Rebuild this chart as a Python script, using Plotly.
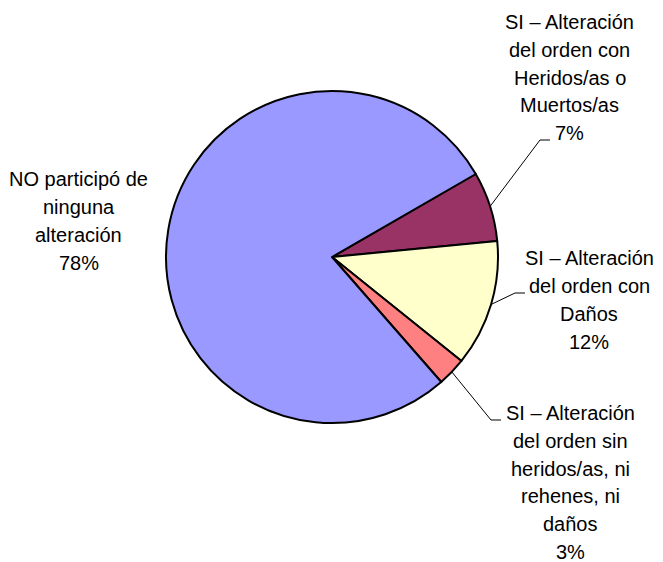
import math
import plotly.graph_objects as go

# ---- data ----
categories = [
    "SI – Alteración<br>del orden con<br>Heridos/as o<br>Muertos/as",
    "SI – Alteración<br>del orden con<br>Daños",
    "SI – Alteración<br>del orden sin<br>heridos/as, ni<br>rehenes, ni<br>daños",
    "NO participó de<br>ninguna<br>alteración",
]
values = [6.8, 12.3, 2.8, 78.1]
colors = ["#993366", "#FFFFCC", "#FF8080", "#9999FF"]

W, H = 663, 562          # browser window
OFF = 8                  # default page body margin
FW, FH = W - OFF, H - OFF
cx, cy, R = 332, 257, 166
rotation = 60
LINE = 27.7


def px2paper(x, y):
    return (x - OFF) / FW, 1 - (y - OFF) / FH


x0, y0 = px2paper(cx - R, cy + R)
x1, y1 = px2paper(cx + R, cy - R)

fig = go.Figure(go.Pie(
    labels=[c.replace("<br>", " ") for c in categories],
    values=values,
    sort=False,
    direction="clockwise",
    rotation=rotation,
    marker=dict(colors=colors, line=dict(color="black", width=2)),
    textinfo="none",
    hoverinfo="label+percent",
    domain=dict(x=[x0, x1], y=[y0, y1]),
    showlegend=False,
))

total = sum(values)
# label block centres (pixels) and leader-line elbows (layout only)
label_pos = [(569.5, 77.5), (589, 300), (570.5, 482.5), (78.5, 221)]
elbows = [[(540, 140), (550, 140)], [(515, 293), (525, 293)], [(491, 420), (501, 420)], None]

annotations = []
shapes = []
cum = 0
for i, (lab, v) in enumerate(zip(categories, values)):
    pct = round(100 * v / total)
    mid = rotation + 360 * (cum + v / 2) / total
    cum += v
    lines = lab.split("<br>") + [f"{pct}%"]
    n = len(lines)
    lx, ly = label_pos[i]
    for k, t in enumerate(lines):
        yy = ly + (k - (n - 1) / 2) * LINE
        px, py = px2paper(lx, yy)
        annotations.append(dict(
            x=px, y=py, xref="paper", yref="paper", text=t,
            showarrow=False, xanchor="center", yanchor="middle", align="center",
            font=dict(family="Liberation Sans, Arial, sans-serif", size=20, color="black"),
        ))
    if elbows[i]:
        a = math.radians(mid)
        sx = cx + R * math.sin(a)
        sy = cy - R * math.cos(a)
        pts = [(sx, sy)] + elbows[i]
        path = "M " + " L ".join(f"{px2paper(x, y)[0]},{px2paper(x, y)[1]}" for x, y in pts)
        shapes.append(dict(type="path", path=path, xref="paper", yref="paper",
                           line=dict(color="black", width=1)))

fig.update_layout(
    width=FW, height=FH,
    margin=dict(l=0, r=0, t=0, b=0),
    paper_bgcolor="white", plot_bgcolor="white",
    annotations=annotations, shapes=shapes,
)

fig.write_html("out.html")
